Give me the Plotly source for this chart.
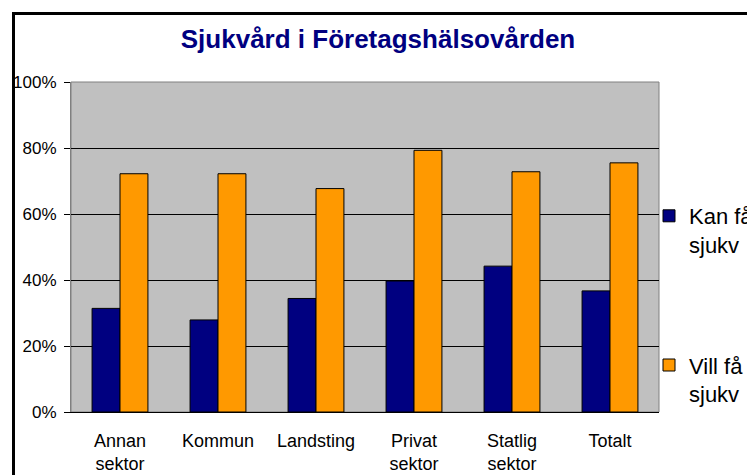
import plotly.graph_objects as go

categories = ["Annan<br>sektor", "Kommun", "Landsting", "Privat<br>sektor", "Statlig<br>sektor", "Totalt"]
kan_fa = [0.314, 0.279, 0.344, 0.397, 0.442, 0.367]
vill_fa = [0.722, 0.722, 0.677, 0.793, 0.728, 0.755]
series_names = ["Kan få<br>sjukv", "Vill få<br>sjukv"]
y_ticks = [0, 0.2, 0.4, 0.6, 0.8, 1.0]
title_text = "Sjukvård i Företagshälsovården"

# page body has an 8px margin, so the figure is laid out in page coords minus 8
W, H = 747, 467
L, R, T, B = 63, 96, 74, 63
pw, ph = W - L - R, H - T - B

fig = go.Figure()
fig.add_trace(go.Bar(x=categories, y=kan_fa, name=series_names[0], legendgroup="a",
                     marker=dict(color="#000080", line=dict(color="#000000", width=1))))
fig.add_trace(go.Bar(x=categories, y=vill_fa, name=series_names[1], legendgroup="b",
                     marker=dict(color="#FF9900", line=dict(color="#000000", width=1))))

n = len(categories)
boundary_ticks = [i - 0.5 for i in range(0, n + 1, 2)]

def px_x(p):
    return (p - L) / pw

def px_y(p):
    return (H - B - p) / ph

fig.update_layout(
    width=W, height=H,
    margin=dict(l=L, r=R, t=T, b=B, autoexpand=False),
    paper_bgcolor="white",
    plot_bgcolor="#C0C0C0",
    font=dict(family="Liberation Sans, Arial, sans-serif", color="black"),
    title=dict(text="<b>" + title_text + "</b>", x=370 / W, xref="container", xanchor="center",
               y=1 - 31 / H, yref="container", yanchor="middle",
               font=dict(size=26, color="#000080")),
    barmode="group", bargap=0.43, bargroupgap=0,
    showlegend=True,
    legend=dict(x=641 / W, y=1 - 187 / H, xref="container", yref="container",
                xanchor="left", yanchor="top",
                traceorder="grouped", tracegroupgap=89, valign="top",
                itemwidth=30, bgcolor="rgba(0,0,0,0)",
                font=dict(size=22, color="black")),
    xaxis=dict(type="category", showgrid=False, ticks="", showline=True,
               linecolor="#000000", linewidth=1, tickfont=dict(size=18),
               ticklabelstandoff=12, range=[-0.5, n - 0.5], automargin=False),
    xaxis2=dict(overlaying="x", anchor="y", side="bottom", range=[-0.5, n - 0.5],
                tickmode="array", tickvals=boundary_ticks, ticks="outside",
                ticklen=8, tickcolor="#808080", showticklabels=False,
                showgrid=False, showline=False, zeroline=False, automargin=False),
    yaxis=dict(range=[0, 1], tickmode="array", tickvals=y_ticks, tickformat=".0%",
               ticks="outside", ticklen=6, tickcolor="#000000",
               showgrid=True, gridcolor="#000000", gridwidth=1,
               showline=True, linecolor="#808080", linewidth=1, zeroline=False,
               tickfont=dict(size=17), ticklabelstandoff=4, automargin=False),
    shapes=[
        dict(type="rect", xref="paper", yref="paper", x0=0, x1=1, y0=0, y1=1,
             line=dict(color="#808080", width=1), layer="below"),
        dict(type="rect", xref="paper", yref="paper",
             x0=px_x(5.5), x1=px_x(W + 20), y0=px_y(H + 20), y1=px_y(5.5),
             line=dict(color="#000000", width=3)),
    ],
)

fig.write_html("out.html")
